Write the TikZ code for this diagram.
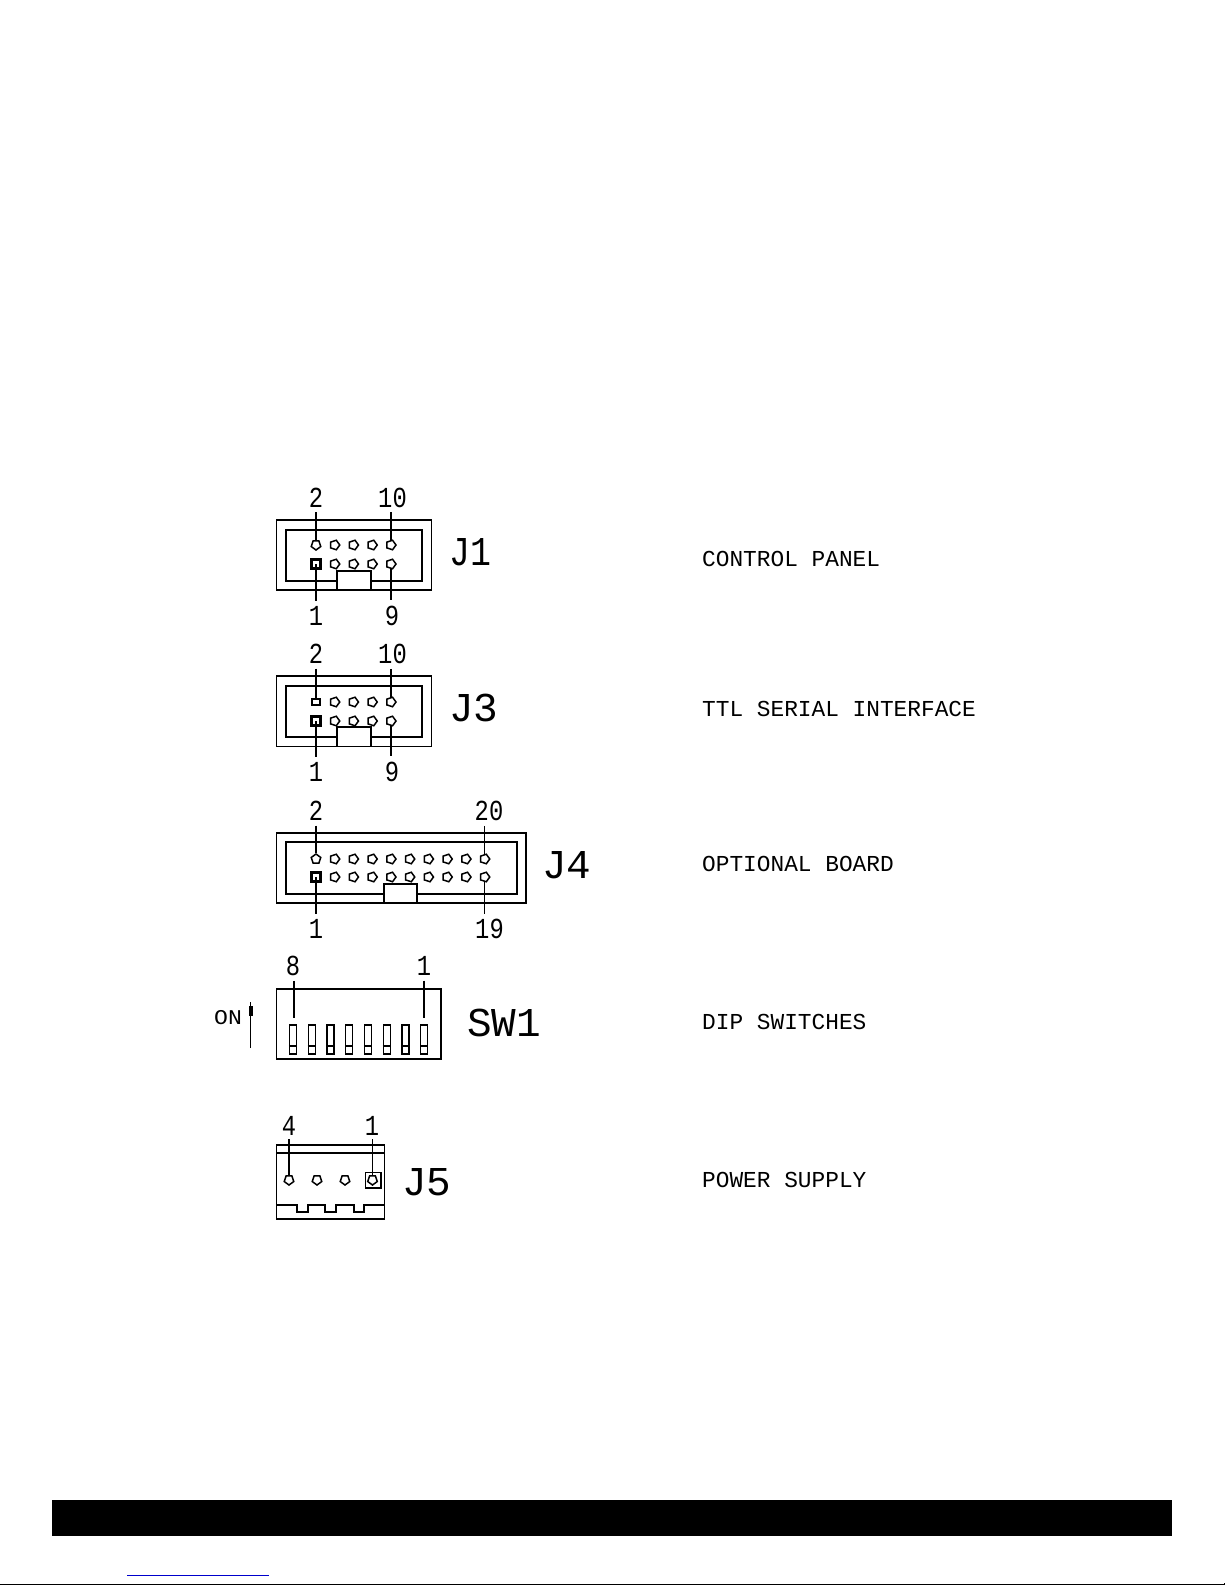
\documentclass[tikz,border=0pt]{standalone}
\usepackage{fontspec}
\setmonofont{Liberation Mono}
\usetikzlibrary{shapes.geometric,arrows.meta}
\newcommand{\digittext}[1]{\fontsize{29}{29}\selectfont\ttfamily\scalebox{0.82}[1]{#1}}
\newcommand{\bigtext}[2][1]{\fontsize{41}{41}\selectfont\ttfamily\scalebox{#1}[1]{#2}}
\newcommand{\captext}[1]{\fontsize{22.8}{26}\selectfont\ttfamily #1}
\tikzset{
  body/.style={draw=black,line width=1.4pt,line join=miter},
  leader/.style={draw=black,line width=1.3pt},
  penta/.style={draw=black,fill=white,line width=1.5pt,regular polygon,regular polygon sides=5,inner sep=0pt,minimum size=10pt,shape border rotate=#1},
  penta/.default=-90,
  squarepin/.style={draw=black,fill=white,line width=1.4pt,rectangle,inner sep=0pt,minimum width=8pt,minimum height=6pt},
  firstpin/.style={draw=black,fill=white,line width=3pt,rectangle,inner sep=0pt,minimum size=9pt},
  sidelab/.style={anchor=base west,inner sep=0pt},
  caplab/.style={anchor=base west,inner sep=0pt},
}
\newcommand{\pinrow}[5]{%
  \foreach \i in {1,...,#4}{%
    \pgfmathsetmacro{\px}{#2+18.75*\i}
    \node[#5] (#1\i) at (\px,#3) {};
  }%
}
\begin{document}
\begin{tikzpicture}[x=1pt,y=-1pt]
\useasboundingbox (0,0) rectangle (1225,1585);
\fill[white] (0,0) rectangle (1225,1585);

% ---------- J1
\draw[body] (276.5,520) rectangle (431.5,590);
\draw[body] (337,590) -- (337,571) -- (371,571) -- (371,590);
\draw[body] (337,581) -- (286,581) -- (286,530) -- (422,530) -- (422,581) -- (371,581);
\node[penta=180] (j1t0) at (316,545) {};
\pinrow{j1t}{316}{545}{4}{penta}
\node[firstpin] (j1b0) at (316,564) {};
\pinrow{j1b}{316}{564}{4}{penta}
\node[inner sep=0pt,anchor=base] (j1l2) at (316,507) {\digittext{2}};
\node[inner sep=0pt,anchor=base] (j1l10) at (392.5,507) {\digittext{10}};
\node[inner sep=0pt,anchor=base] (j1l1) at (316,625) {\digittext{1}};
\node[inner sep=0pt,anchor=base] (j1l9) at (392,625) {\digittext{9}};
\draw[leader,shorten <=5pt] (j1l2.south) -- (j1t0);
\draw[leader,shorten <=5pt] (j1l10.south -| j1t4) -- (j1t4);
\draw[leader,shorten >=5pt] (j1b0.center) -- (j1l1.north);
\draw[leader,shorten >=5pt] (j1b4) -- (j1l9.north -| j1b4);
\node[sidelab] (j1n) at (449,565) {\bigtext[0.85]{J1}};
\node[caplab] (j1c) at (702,566.5) {\captext{CONTROL PANEL}};

% ---------- J3
\draw[body] (276.5,676) rectangle (431.5,746.5);
\draw[body] (337,746.5) -- (337,727) -- (371,727) -- (371,746.5);
\draw[body] (337,737) -- (286,737) -- (286,686) -- (422,686) -- (422,737) -- (371,737);
\node[squarepin] (j3t0) at (316,702) {};
\pinrow{j3t}{316}{702}{4}{penta}
\node[firstpin] (j3b0) at (316,721) {};
\pinrow{j3b}{316}{721}{4}{penta}
\node[inner sep=0pt,anchor=base] (j3l2) at (316,663.5) {\digittext{2}};
\node[inner sep=0pt,anchor=base] (j3l10) at (392.5,663.5) {\digittext{10}};
\node[inner sep=0pt,anchor=base] (j3l1) at (316,781) {\digittext{1}};
\node[inner sep=0pt,anchor=base] (j3l9) at (392,781) {\digittext{9}};
\draw[leader,shorten <=5pt] (j3l2.south) -- (j3t0);
\draw[leader,shorten <=5pt] (j3l10.south -| j3t4) -- (j3t4);
\draw[leader,shorten >=5pt] (j3b0.center) -- (j3l1.north);
\draw[leader,shorten >=5pt] (j3b4) -- (j3l9.north -| j3b4);
\node[sidelab] (j3n) at (449,721) {\bigtext{J3}};
\node[caplab] (j3c) at (702,716) {\captext{TTL SERIAL INTERFACE}};

% ---------- J4
\draw[body] (276.5,833) rectangle (526,903);
\draw[body] (384,903) -- (384,884) -- (417,884) -- (417,903);
\draw[body] (384,894) -- (286,894) -- (286,842) -- (517,842) -- (517,894) -- (417,894);
\node[penta=0] (j4t0) at (316,859) {};
\pinrow{j4t}{316}{859}{9}{penta}
\node[firstpin] (j4b0) at (316,877) {};
\pinrow{j4b}{316}{877}{9}{penta}
\node[inner sep=0pt,anchor=base] (j4l2) at (316,820.5) {\digittext{2}};
\node[inner sep=0pt,anchor=base] (j4l20) at (489,820.5) {\digittext{20}};
\node[inner sep=0pt,anchor=base] (j4l1) at (316,938.5) {\digittext{1}};
\node[inner sep=0pt,anchor=base] (j4l19) at (489.5,938.5) {\digittext{19}};
\draw[leader,shorten <=5pt] (j4l2.south) -- (j4t0);
\draw[leader,shorten <=5pt] (j4l20.south -| j4t9) -- (j4t9);
\draw[leader,shorten >=5pt] (j4b0.center) -- (j4l1.north);
\draw[leader,shorten >=5pt] (j4b9) -- (j4l19.north -| j4b9);
\node[sidelab] (j4n) at (542,878) {\bigtext{J4}};
\node[caplab] (j4c) at (702,871) {\captext{OPTIONAL BOARD}};

% ---------- SW1
\draw[body] (276.5,989) rectangle (441,1059);
\foreach \i in {0,...,7}{
  \pgfmathsetmacro{\px}{293+18.75*\i}
  \node[draw=black,line width=1.3pt,inner sep=0pt,minimum width=7pt,minimum height=29pt] (sw\i) at (\px,1039.5) {};
  \draw[line width=1.3pt] (sw\i.west |- 0,1046) -- (sw\i.east |- 0,1046);
}
\node[inner sep=0pt,anchor=base] (swl8) at (293,975.5) {\digittext{8}};
\node[inner sep=0pt,anchor=base] (swl1) at (424,975.5) {\digittext{1}};
\coordinate (swe8) at (294,1018);
\coordinate (swe1) at (424,1018);
\draw[leader,shorten <=5pt] (swl8.south -| swe8) -- (swe8);
\draw[leader,shorten <=5pt] (swl1.south -| swe1) -- (swe1);
\node[sidelab] (swn) at (467,1036.5) {\bigtext{SW1}};
\node[caplab] (swc) at (702,1029) {\captext{DIP SWITCHES}};
\node[inner sep=0pt,anchor=base west] (onl) at (214,1024) {\fontsize{21}{21}\selectfont\ttfamily\scalebox{1.1}[1]{ON}};
\coordinate (onb) at (250.5,1048);
\coordinate (ont) at (250.5,1002);
\coordinate (onh1) at (250.5,1006);
\coordinate (onh2) at (250.5,1016);
\draw[line width=1.3pt] (onb) -- (ont);
\draw[line width=4pt] (onh1) -- (onh2);

% ---------- J5
\draw[body] (276.5,1145) rectangle (384.5,1219);
\draw[body] (276.5,1153) -- (384.5,1153);
\draw[body] (276.5,1205) -- (297,1205) -- (297,1212) -- (308,1212) -- (308,1205) -- (325,1205) -- (325,1212) -- (336,1212) -- (336,1205) -- (354,1205) -- (354,1212) -- (364,1212) -- (364,1205) -- (384.5,1205);
\node[penta=180] (j5p4) at (289,1180) {};
\node[penta=180] (j5p3) at (317,1180) {};
\node[penta=180] (j5p2) at (345,1180) {};
\node[draw=black,line width=1.5pt,inner sep=0pt,minimum size=15.5pt] (j5box) at (373,1180) {};
\node[penta=180] (j5p1) at (372.5,1180) {};
\node[inner sep=0pt,anchor=base] (j5l4) at (289,1135) {\digittext{4}};
\node[inner sep=0pt,anchor=base] (j5l1) at (372,1135) {\digittext{1}};
\draw[leader,shorten <=4pt] (j5l4.south -| j5p4) -- (j5p4);
\draw[leader,shorten <=4pt] (j5l1.south -| j5p1) -- (j5p1);
\node[sidelab] (j5n) at (402,1195) {\bigtext{J5}};
\node[caplab] (j5c) at (702,1187.5) {\captext{POWER SUPPLY}};

% ---------- footer
\fill[black] (52,1500) rectangle (1172,1536);
\draw[draw={rgb,255:red,0;green,0;blue,204},line width=1pt] (127,1575.5) -- (269,1575.5);
\draw[black,line width=1pt] (0,1584.5) -- (1224.5,1584.5) -- (1224.5,1583);
\end{tikzpicture}
\end{document}
